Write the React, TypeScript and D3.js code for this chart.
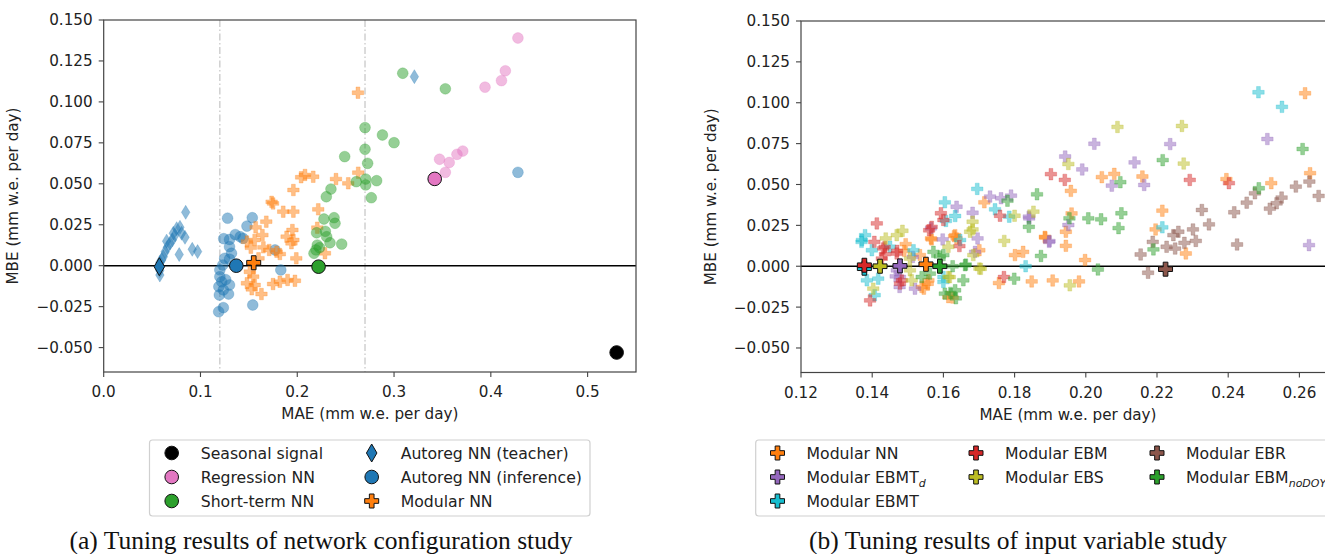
import React from 'react';
import * as d3 from 'd3';

type P = [number, number];

// ---------------- Left panel: network configuration study ----------------
const seasonalBest: P = [0.53, -0.053];

const regressionNN: P[] = [
  [0.428, 0.139], [0.415, 0.119], [0.411, 0.113], [0.394, 0.109], [0.371, 0.07],
  [0.365, 0.068], [0.347, 0.065], [0.357, 0.063], [0.353, 0.057],
];
const regressionBest: P = [0.342, 0.053];

const autoregTeacher: P[] = [
  [0.0847, 0.0326], [0.0788, 0.0234], [0.0754, 0.0226], [0.0805, 0.0198], [0.084, 0.0173],
  [0.0737, 0.0187], [0.0709, 0.0157], [0.0685, 0.0137], [0.0657, 0.0112], [0.0635, 0.0085],
  [0.0616, 0.0055], [0.0599, 0.0035], [0.058, 0.002], [0.078, 0.0068], [0.0915, 0.01],
  [0.097, 0.0086], [0.058, -0.0057], [0.058, -0.003], [0.321, 0.1154], [0.0719, 0.0198],
  [0.065, 0.015],
];
const autoregTeacherBest: P = [0.0575, -0.0006];

const autoregInference: P[] = [
  [0.128, 0.029], [0.1535, 0.0293], [0.148, 0.0242], [0.124, 0.0165], [0.13, 0.016],
  [0.136, 0.019], [0.141, 0.0177], [0.144, 0.0167], [0.13, 0.0116], [0.132, 0.0076],
  [0.125, 0.0045], [0.123, 0.0004], [0.13, 0.004], [0.177, 0.0096], [0.183, -0.0026],
  [0.12, -0.0026], [0.12, -0.0067], [0.122, -0.0098], [0.119, -0.0128], [0.1236, -0.0148],
  [0.13, -0.0118], [0.1195, -0.0179], [0.129, -0.0173], [0.1188, -0.0281], [0.1236, -0.0256],
  [0.154, -0.024], [0.126, -0.0085], [0.428, 0.057],
];
const autoregInferenceBest: P = [0.137, 0.0];

const modularNNLeft: P[] = [
  [0.196, 0.0462], [0.1735, 0.039], [0.175, 0.038], [0.1855, 0.033], [0.196, 0.033],
  [0.168, 0.0269], [0.157, 0.0234], [0.164, 0.0187], [0.195, 0.0218], [0.189, 0.0177],
  [0.196, 0.0157], [0.148, 0.0147], [0.156, 0.0157], [0.165, 0.0112], [0.1787, 0.0085],
  [0.182, 0.0071], [0.171, 0.0096], [0.16, 0.0045], [0.199, 0.0045], [0.151, -0.0037],
  [0.1545, -0.0067], [0.148, -0.0107], [0.156, -0.0118], [0.153, -0.0144], [0.163, -0.0173],
  [0.175, -0.0112], [0.182, -0.0098], [0.19, -0.0087], [0.1976, -0.0092], [0.152, 0.011],
  [0.208, 0.0554], [0.2165, 0.0543], [0.204, 0.054], [0.2217, 0.0344], [0.24, 0.0529],
  [0.2527, 0.0503], [0.263, 0.0568], [0.2207, 0.0232], [0.194, 0.0137], [0.2286, 0.0076],
  [0.2627, 0.1056],
];
const modularNNLeftBest: P = [0.155, 0.0018];

const shortTermNN: P[] = [
  [0.309, 0.1175], [0.353, 0.108], [0.27, 0.0843], [0.288, 0.0798], [0.3, 0.0751],
  [0.27, 0.0711], [0.249, 0.0666], [0.2727, 0.0625], [0.261, 0.0513], [0.2707, 0.0529],
  [0.2707, 0.0493], [0.282, 0.0519], [0.2765, 0.0415], [0.2348, 0.0468], [0.23, 0.0421],
  [0.2276, 0.0285], [0.238, 0.0293], [0.239, 0.0259], [0.22, 0.0201], [0.2304, 0.0177],
  [0.2338, 0.014], [0.2459, 0.0132], [0.2207, 0.0126], [0.2193, 0.0096], [0.2173, 0.0076],
  [0.223, 0.011], [0.229, 0.021],
];
const shortTermBest: P = [0.222, -0.0006];

// ---------------- Right panel: input variable study ----------------
const rModularNN: P[] = [
  [0.2616, 0.1058], [0.2045, 0.0545], [0.208, 0.0565], [0.2159, 0.0549], [0.2395, 0.0533],
  [0.2521, 0.0508], [0.263, 0.0569], [0.2215, 0.034], [0.2196, 0.0225], [0.2281, 0.0078],
  [0.196, 0.0323], [0.1944, 0.0211], [0.1944, 0.0125], [0.1958, 0.0461], [0.1886, 0.0176],
  [0.1756, -0.0103], [0.1848, -0.0093], [0.1907, -0.0087], [0.1981, -0.0093], [0.1998, 0.0038],
  [0.1801, 0.0068], [0.1824, 0.0088], [0.1715, 0.0391], [0.1633, 0.019], [0.1637, 0.017],
  [0.1701, 0.0098], [0.1885, 0.018], [0.1614, -0.0189], [0.1494, 0.0135], [0.149, 0.0094],
  [0.1567, 0.0164], [0.1534, 0.0068], [0.1539, -0.0127], [0.1558, -0.0086], [0.1545, -0.0137],
  [0.1556, -0.0107], [0.1626, -0.0192], [0.1565, 0.017], [0.163, 0.0184],
];
const rModularNNBest: P = [0.1551, 0.0012];

const rEBMTd: P[] = [
  [0.251, 0.0778], [0.2024, 0.0749], [0.2237, 0.0747], [0.1942, 0.0671], [0.199, 0.0592],
  [0.2137, 0.0635], [0.2073, 0.0493], [0.2164, 0.0497], [0.2627, 0.0129], [0.1951, 0.0252],
  [0.1841, 0.0293], [0.1898, 0.0154], [0.1731, 0.0426], [0.1762, 0.0416], [0.179, 0.0432],
  [0.1637, 0.0364], [0.184, 0.0303], [0.1682, 0.0327], [0.1696, 0.017], [0.1598, 0.0164],
  [0.1689, 0.0088], [0.1897, 0.0149], [0.1565, 0.0232], [0.1514, 0.0057], [0.1478, -0.0066],
  [0.1469, -0.0025], [0.152, -0.0137], [0.1477, -0.0127], [0.1466, -0.0062],
];
const rEBMTdBest: P = [0.1478, 0.0002];

const rEBMT: P[] = [
  [0.2485, 0.1064], [0.2551, 0.0975], [0.2215, 0.0238], [0.1831, 0.0], [0.1695, 0.0473],
  [0.1604, 0.0391], [0.1633, 0.0307], [0.1745, 0.0348], [0.1785, 0.0303], [0.1647, 0.016],
  [0.16, -0.0096], [0.138, 0.019], [0.137, 0.0149], [0.1399, 0.0098], [0.145, 0.0119],
  [0.1516, 0.0098], [0.1385, -0.0086], [0.1417, -0.0076], [0.1407, -0.0177], [0.16, -0.0066],
  [0.1607, 0.0277], [0.1371, 0.016],
];
const rEBMTBest: P = [0.1378, -0.0012];

const rEBM: P[] = [
  [0.1902, 0.0563], [0.1941, 0.0528], [0.2292, 0.0528], [0.2402, 0.0508], [0.1413, 0.0262],
  [0.1406, 0.0149], [0.1431, 0.0109], [0.1436, 0.0074], [0.1427, 0.0047], [0.1469, 0.0078],
  [0.1567, 0.0241], [0.1593, 0.0324], [0.16, 0.0283], [0.1759, 0.0309], [0.1645, 0.0123],
  [0.177, -0.0066], [0.1394, -0.0209], [0.1478, -0.0106], [0.1483, -0.0087], [0.1435, 0.0118],
  [0.147, 0.0094], [0.156, 0.022],
];
const rEBMBest: P = [0.1378, 0.0006];

const rEBS: P[] = [
  [0.2089, 0.0852], [0.227, 0.0858], [0.1951, 0.0625], [0.2275, 0.0628], [0.1853, 0.0334],
  [0.18, 0.0309], [0.1682, 0.0272], [0.1682, 0.0225], [0.1675, 0.0211], [0.1614, 0.0119],
  [0.1684, 0.0068], [0.1771, 0.0155], [0.1701, -0.0014], [0.1614, -0.0066], [0.1955, -0.0117],
  [0.1438, 0.017], [0.1469, 0.019], [0.1485, 0.0217], [0.1506, 0.0047], [0.1403, -0.0137],
  [0.1506, -0.0025], [0.1511, -0.0086], [0.1618, -0.0067], [0.1705, -0.0016],
];
const rEBSBest: P = [0.1422, 0.0];

const rEBR: P[] = [
  [0.2628, 0.0518], [0.259, 0.0487], [0.2654, 0.043], [0.2475, 0.0446], [0.2452, 0.0389],
  [0.255, 0.042], [0.2536, 0.0385], [0.2517, 0.0352], [0.2417, 0.033], [0.2326, 0.0344],
  [0.2346, 0.0256], [0.2301, 0.0225], [0.226, 0.0211], [0.2246, 0.019], [0.2277, 0.0143],
  [0.2309, 0.0155], [0.2227, 0.0119], [0.2251, 0.0108], [0.2188, 0.0149], [0.2154, 0.0072],
  [0.2175, -0.004], [0.2425, 0.0133],
];
const rEBRBest: P = [0.2224, -0.0018];

const rNoDOY: P[] = [
  [0.2609, 0.0717], [0.2216, 0.0649], [0.2097, 0.0514], [0.2486, 0.0477], [0.219, 0.0103],
  [0.21, 0.0324], [0.2092, 0.0233], [0.2043, 0.0287], [0.2007, 0.0293], [0.1954, 0.0293],
  [0.184, 0.0241], [0.1863, 0.044], [0.1874, 0.0063], [0.2034, -0.002], [0.178, 0.0401],
  [0.1661, 0.0006], [0.1626, 0.0], [0.1656, -0.0086], [0.1799, -0.0076], [0.1604, -0.0168],
  [0.1633, -0.0147], [0.1635, -0.0196], [0.1539, -0.0066], [0.1562, -0.0045], [0.1572, 0.0088],
  [0.159, 0.006], [0.16, 0.0068], [0.162, -0.0163], [0.1663, 0.001],
];
const rNoDOYBest: P = [0.159, 0.0];

// ---------------- Ticks ----------------
const leftXTicks = [0, 0.1, 0.2, 0.3, 0.4, 0.5];
const rightXTicks = [0.12, 0.14, 0.16, 0.18, 0.2, 0.22, 0.24, 0.26];
const yTicks = [-0.05, -0.025, 0, 0.025, 0.05, 0.075, 0.1, 0.125, 0.15];
const guideLines = [0.12, 0.27];

const C = {
  blue: '#1f77b4', orange: '#ff7f0e', green: '#2ca02c', red: '#d62728',
  purple: '#9467bd', brown: '#8c564b', pink: '#e377c2', olive: '#bcbd22', cyan: '#17becf',
};

const FONT = 'DejaVu Sans, sans-serif';

function plusPath(s: number) {
  const h = s / 2, t = s / 6;
  return `M${-t},${-h}L${t},${-h}L${t},${-t}L${h},${-t}L${h},${t}L${t},${t}L${t},${h}L${-t},${h}L${-t},${t}L${-h},${t}L${-h},${-t}L${-t},${-t}Z`;
}
function diamondPath(w: number, hgt: number) {
  return `M0,${-hgt / 2}L${w / 2},0L0,${hgt / 2}L${-w / 2},0Z`;
}

type Kind = 'circle' | 'plus' | 'diamond';

function Marker({ kind, x, y, color, big }: { kind: Kind; x: number; y: number; color: string; big: boolean }) {
  const fill = color;
  const style = big
    ? { fill, stroke: '#111', strokeWidth: 1 }
    : { fill, fillOpacity: 0.5, stroke: color, strokeOpacity: 0.25, strokeWidth: 1 };
  if (kind === 'circle') return <circle cx={x} cy={y} r={big ? 6.8 : 5.4} {...style} />;
  if (kind === 'plus') return <path d={plusPath(big ? 14 : 11.5)} transform={`translate(${x},${y})`} {...style} />;
  return <path d={big ? diamondPath(10.5, 18) : diamondPath(8.5, 14)} transform={`translate(${x},${y})`} {...style} />;
}

type Series = { pts: P[]; best: P; color: string; kind: Kind };

function Panel({ id, x, y, xTicks, xFmt, series, guides, ylabelX, xlabelX, clipW }: {
  id: string; x: d3.ScaleLinear<number, number>; y: d3.ScaleLinear<number, number>;
  xTicks: number[]; xFmt: (n: number) => string; series: Series[]; guides: number[];
  ylabelX: number; xlabelX: number; clipW: number;
}) {
  const [x0, x1] = x.range();
  const [yb, yt] = y.range();
  const yFmt = d3.format('.3f');
  return (
    <g>
      <defs>
        <clipPath id={id}>
          <rect x={x0} y={yt} width={clipW} height={yb - yt} />
        </clipPath>
      </defs>
      <g clipPath={`url(#${id})`}>
        {guides.map((g) => (
          <line key={g} x1={x(g)} x2={x(g)} y1={yt} y2={yb} stroke="#c4c4c4" strokeWidth={1.2} strokeDasharray="7,2.5,1.5,2.5" />
        ))}
        <line x1={x0} x2={x1} y1={y(0)} y2={y(0)} stroke="#000" strokeWidth={1.6} />
        {series.map((s, i) => (
          <g key={i}>
            {s.pts.map((p, j) => (
              <Marker key={j} kind={s.kind} x={x(p[0])} y={y(p[1])} color={s.color} big={false} />
            ))}
          </g>
        ))}
        {series.map((s, i) => (
          <Marker key={'b' + i} kind={s.kind} x={x(s.best[0])} y={y(s.best[1])} color={s.color} big={true} />
        ))}
      </g>
      <rect x={x0} y={yt} width={x1 - x0} height={yb - yt} fill="none" stroke="#444" strokeWidth={1.2} />
      {yTicks.map((t) => (
        <g key={t}>
          <line x1={x0 - 5} x2={x0} y1={y(t)} y2={y(t)} stroke="#444" strokeWidth={1.1} />
          <text x={x0 - 11} y={y(t)} dy="0.36em" textAnchor="end" fontSize={15.2} fontFamily={FONT} fill="#222">{yFmt(t)}</text>
        </g>
      ))}
      {xTicks.map((t) => (
        <g key={t}>
          <line x1={x(t)} x2={x(t)} y1={yb} y2={yb + 5} stroke="#444" strokeWidth={1.1} />
          <text x={x(t)} y={yb + 25} textAnchor="middle" fontSize={15.2} fontFamily={FONT} fill="#222">{xFmt(t)}</text>
        </g>
      ))}
      <text x={xlabelX} y={yb + 47} textAnchor="middle" fontSize={15.2} fontFamily={FONT} fill="#222">MAE (mm w.e. per day)</text>
      <text transform={`translate(${ylabelX},${(yt + yb) / 2}) rotate(-90)`} textAnchor="middle" fontSize={15.2} fontFamily={FONT} fill="#222">MBE (mm w.e. per day)</text>
    </g>
  );
}

function LegendItem({ x, y, kind, color, children }: { x: number; y: number; kind: Kind; color: string; children: React.ReactNode }) {
  return (
    <g>
      <Marker kind={kind} x={x} y={y} color={color} big={true} />
      <text x={x + 29} y={y} dy="0.36em" fontSize={15.7} fontFamily={FONT} fill="#222">{children}</text>
    </g>
  );
}

export default function App() {
  const xL = d3.scaleLinear().domain([0, 0.55]).range([103.7, 636]);
  const yL = d3.scaleLinear().domain([-0.0649, 0.15]).range([372, 20]);
  const xR = d3.scaleLinear().domain([0.12, 0.27]).range([801, 1335]);
  const yR = d3.scaleLinear().domain([-0.065, 0.15]).range([372.5, 21]);

  const leftSeries: Series[] = [
    { pts: autoregTeacher, best: autoregTeacherBest, color: C.blue, kind: 'diamond' },
    { pts: autoregInference, best: autoregInferenceBest, color: C.blue, kind: 'circle' },
    { pts: modularNNLeft, best: modularNNLeftBest, color: C.orange, kind: 'plus' },
    { pts: shortTermNN, best: shortTermBest, color: C.green, kind: 'circle' },
    { pts: regressionNN, best: regressionBest, color: C.pink, kind: 'circle' },
    { pts: [], best: seasonalBest, color: '#000', kind: 'circle' },
  ];
  const rightSeries: Series[] = [
    { pts: rModularNN, best: rModularNNBest, color: C.orange, kind: 'plus' },
    { pts: rEBMTd, best: rEBMTdBest, color: C.purple, kind: 'plus' },
    { pts: rEBMT, best: rEBMTBest, color: C.cyan, kind: 'plus' },
    { pts: rEBM, best: rEBMBest, color: C.red, kind: 'plus' },
    { pts: rEBS, best: rEBSBest, color: C.olive, kind: 'plus' },
    { pts: rEBR, best: rEBRBest, color: C.brown, kind: 'plus' },
    { pts: rNoDOY, best: rNoDOYBest, color: C.green, kind: 'plus' },
  ];
  const rows = [453, 477, 501];

  return (
    <svg width={1325} height={554} style={{ position: 'absolute', left: 0, top: 0, background: '#fff' }}>
      <rect x={0} y={0} width={1325} height={554} fill="#fff" />
      <Panel id="clipL" x={xL} y={yL} xTicks={leftXTicks} xFmt={d3.format('.1f')} series={leftSeries}
        guides={guideLines} ylabelX={18} xlabelX={(103.7 + 636) / 2} clipW={636 - 103.7} />
      <Panel id="clipR" x={xR} y={yR} xTicks={rightXTicks} xFmt={d3.format('.2f')} series={rightSeries}
        guides={[]} ylabelX={716} xlabelX={(801 + 1335) / 2} clipW={534} />

      {/* Left legend */}
      <rect x={149.5} y={440} width={440.5} height={76} rx={3} fill="#fff" stroke="#d0d0d0" strokeWidth={1.2} />
      <LegendItem x={171.7} y={rows[0]} kind="circle" color="#000">Seasonal signal</LegendItem>
      <LegendItem x={171.7} y={rows[1]} kind="circle" color={C.pink}>Regression NN</LegendItem>
      <LegendItem x={171.7} y={rows[2]} kind="circle" color={C.green}>Short-term NN</LegendItem>
      <LegendItem x={371.7} y={rows[0]} kind="diamond" color={C.blue}>Autoreg NN (teacher)</LegendItem>
      <LegendItem x={371.7} y={rows[1]} kind="circle" color={C.blue}>Autoreg NN (inference)</LegendItem>
      <LegendItem x={371.7} y={rows[2]} kind="plus" color={C.orange}>Modular NN</LegendItem>

      {/* Right legend */}
      <rect x={755.7} y={440} width={620} height={76} rx={3} fill="#fff" stroke="#d0d0d0" strokeWidth={1.2} />
      <LegendItem x={777.5} y={rows[0]} kind="plus" color={C.orange}>Modular NN</LegendItem>
      <LegendItem x={777.5} y={rows[1]} kind="plus" color={C.purple}>
        Modular EBMT<tspan fontSize={11} fontStyle="italic" dy="4">d</tspan>
      </LegendItem>
      <LegendItem x={777.5} y={rows[2]} kind="plus" color={C.cyan}>Modular EBMT</LegendItem>
      <LegendItem x={976} y={rows[0]} kind="plus" color={C.red}>Modular EBM</LegendItem>
      <LegendItem x={976} y={rows[1]} kind="plus" color={C.olive}>Modular EBS</LegendItem>
      <LegendItem x={1157} y={rows[0]} kind="plus" color={C.brown}>Modular EBR</LegendItem>
      <LegendItem x={1157} y={rows[1]} kind="plus" color={C.green}>
        Modular EBM<tspan fontSize={11} fontStyle="italic" dy="4">noDOY</tspan>
      </LegendItem>

      {/* Captions */}
      <text x={321} y={549} textAnchor="middle" fontSize={25.5} fontFamily="Liberation Serif, Times New Roman, serif" fill="#111">(a) Tuning results of network configuration study</text>
      <text x={1018} y={549} textAnchor="middle" fontSize={25.5} fontFamily="Liberation Serif, Times New Roman, serif" fill="#111">(b) Tuning results of input variable study</text>
    </svg>
  );
}
